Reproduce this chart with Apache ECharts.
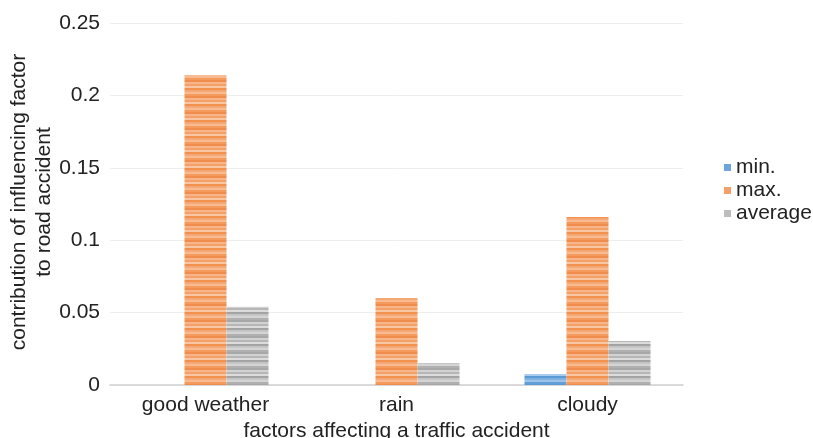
<!DOCTYPE html>
<html>
<head>
<meta charset="utf-8">
<script src="https://cdn.jsdelivr.net/npm/echarts@6/dist/echarts.min.js"></script>
<style>
  html, body { margin: 0; padding: 0; background: #fff; }
  #chart { width: 813px; height: 438px; }
</style>
</head>
<body>
<div id="chart"></div>
<script>
// Weather conditions on the category axis
const categories = ['good weather', 'rain', 'cloudy'];
// Contribution of each factor to road accidents
const minValues = [0, 0, 0.0076];
const maxValues = [0.214, 0.060, 0.116];
const averageValues = [0.054, 0.0152, 0.0304];
const yTicks = [0, 0.05, 0.1, 0.15, 0.2, 0.25];

// Horizontal striped fill, built on a small canvas
function stripes(colors) {
  const c = document.createElement('canvas');
  c.width = 4;
  c.height = colors.length * 2;
  const ctx = c.getContext('2d');
  colors.forEach((col, i) => {
    ctx.fillStyle = col;
    ctx.fillRect(0, i * 2, 4, 2);
  });
  return { image: c, repeat: 'repeat' };
}

const blueFill = stripes(['#5b9bd5', '#8dbbe6', '#6aa5dc', '#a9cdee', '#5b9bd5', '#7eb1e2', '#9cc4ea', '#629fd8']);
const orangeFill = stripes(['#f08c4e', '#f7b58a', '#f4a067', '#f9c6a3', '#f1904f', '#f5a873', '#f8bb92', '#f39a5c']);
const grayFill = stripes(['#a8a8a8', '#d2d2d2', '#b6b6b6', '#dcdcdc', '#a3a3a3', '#c6c6c6', '#d5d5d5', '#b0b0b0']);

const font = 'Liberation Sans, Arial, sans-serif';

const chart = echarts.init(document.getElementById('chart'));
chart.setOption({
  animation: false,
  grid: { left: 110, right: 130, top: 23, bottom: 53, containLabel: false, outerBoundsMode: 'none' },
  legend: {
    orient: 'vertical',
    left: 719,
    top: 152,
    icon: 'rect',
    itemWidth: 7,
    itemHeight: 7,
    itemGap: 2,
    textStyle: { fontFamily: font, fontSize: 21, color: '#222' },
    data: [
      { name: 'min.', itemStyle: { color: '#6aa5dc' } },
      { name: 'max.', itemStyle: { color: '#f4a067' } },
      { name: 'average', itemStyle: { color: '#bdbdbd' } }
    ]
  },
  graphic: [{
    type: 'text',
    x: 32,
    y: 202,
    rotation: Math.PI / 2,
    style: {
      text: 'contribution of influencing factor\nto road accident',
      fontFamily: font,
      fontSize: 21,
      lineHeight: 25,
      fill: '#222',
      align: 'center',
      verticalAlign: 'middle'
    }
  }],
  xAxis: {
    type: 'category',
    data: categories,
    name: 'factors affecting a traffic accident',
    nameLocation: 'middle',
    nameGap: 30,
    nameTextStyle: { fontFamily: font, fontSize: 21, color: '#222' },
    axisLine: { lineStyle: { color: '#d0d0d0', width: 1.5 } },
    axisTick: { show: false },
    axisLabel: { fontFamily: font, fontSize: 21, color: '#222', margin: 10 }
  },
  yAxis: {
    type: 'value',
    min: yTicks[0],
    max: yTicks[yTicks.length - 1],
    interval: 0.05,
    axisLine: { show: false },
    axisTick: { show: false },
    axisLabel: {
      fontFamily: font, fontSize: 21, color: '#222', margin: 10,
      formatter: v => String(Math.round(v * 100) / 100)
    },
    splitLine: { lineStyle: { color: '#eeeeee', width: 1 } }
  },
  series: [
    { name: 'min.', type: 'bar', data: minValues, barGap: 0, barCategoryGap: '34%',
      itemStyle: { color: blueFill } },
    { name: 'max.', type: 'bar', data: maxValues, barGap: 0, barCategoryGap: '34%',
      itemStyle: { color: orangeFill } },
    { name: 'average', type: 'bar', data: averageValues, barGap: 0, barCategoryGap: '34%',
      itemStyle: { color: grayFill } }
  ]
});
</script>
</body>
</html>
